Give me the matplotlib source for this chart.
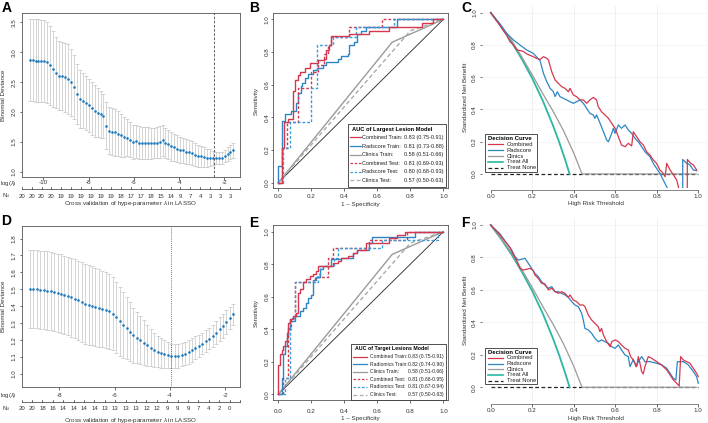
import numpy as np
import matplotlib.pyplot as plt
from matplotlib.lines import Line2D
from matplotlib.patches import Rectangle

plt.rcParams['font.family'] = ['Liberation Sans', 'DejaVu Sans']
plt.rcParams['mathtext.fontset'] = 'custom'
plt.rcParams['mathtext.rm'] = 'Liberation Sans'
plt.rcParams['mathtext.it'] = 'Liberation Sans:italic'
plt.rcParams['axes.unicode_minus'] = False

W, H = 708, 423

RED = '#D5384E'
BLUE = '#2C86C4'
LBLUE = '#3A9BD8'
GRAY = '#9A9A9A'
TEAL = '#2DB6A3'
DOT = '#1F7BBF'
EBAR = '#C4C4C4'

# ---------------- LASSO (A) ----------------
# glmnet lambda path: evenly spaced in log(lambda)
a_loglam = np.linspace(-10.6, -1.6, 70)
a_cvm = [2.87, 2.87, 2.86, 2.86, 2.85, 2.85, 2.83, 2.78, 2.72, 2.66,
         2.61, 2.60, 2.58, 2.55, 2.50, 2.42, 2.30, 2.22, 2.19, 2.15,
         2.11, 2.06, 2.02, 1.99, 1.96, 1.93, 1.77, 1.69, 1.67, 1.66,
         1.64, 1.61, 1.59, 1.57, 1.54, 1.50, 1.51, 1.49, 1.48, 1.48,
         1.48, 1.48, 1.48, 1.49, 1.50, 1.53, 1.48, 1.46, 1.43, 1.41,
         1.39, 1.37, 1.36, 1.34, 1.33, 1.31, 1.29, 1.27, 1.26, 1.25,
         1.24, 1.24, 1.23, 1.23, 1.23, 1.24, 1.26, 1.30, 1.33, 1.36]
a_cvsd = [0.69, 0.69, 0.69, 0.69, 0.69, 0.69, 0.68, 0.66, 0.63, 0.60,
          0.57, 0.57, 0.58, 0.58, 0.56, 0.53, 0.50, 0.48, 0.46, 0.45,
          0.45, 0.445, 0.43, 0.41, 0.39, 0.37, 0.395, 0.395, 0.395, 0.395,
          0.38, 0.355, 0.335, 0.31, 0.295, 0.28, 0.275, 0.275, 0.27, 0.27,
          0.265, 0.26, 0.255, 0.255, 0.26, 0.26, 0.25, 0.245, 0.24, 0.23,
          0.22, 0.215, 0.21, 0.21, 0.205, 0.20, 0.195, 0.185, 0.175, 0.16,
          0.15, 0.135, 0.12, 0.105, 0.10, 0.10, 0.10, 0.11, 0.12, 0.125]
a_best = -2.45
a_nzero = ['20', '20', '20', '20', '19', '19', '19', '19', '19', '19', '18',
           '17', '17', '18', '15', '14', '9', '7', '4', '3', '3', '3']

# ---------------- LASSO (D) ----------------
d_loglam = np.linspace(-9.06, -1.71, 60)
d_cvm = [1.502, 1.501, 1.500, 1.498, 1.496, 1.493, 1.489, 1.484, 1.479, 1.474,
         1.467, 1.460, 1.452, 1.444, 1.435, 1.426, 1.416, 1.408, 1.402, 1.396,
         1.390, 1.384, 1.377, 1.370, 1.355, 1.336, 1.311, 1.292, 1.270, 1.250,
         1.229, 1.214, 1.200, 1.186, 1.170, 1.155, 1.141, 1.132, 1.124, 1.117,
         1.111, 1.106, 1.107, 1.109, 1.115, 1.121, 1.130, 1.142, 1.155, 1.168,
         1.180, 1.195, 1.209, 1.226, 1.245, 1.266, 1.285, 1.307, 1.330, 1.352]
d_cvsd = [0.230, 0.231, 0.231, 0.231, 0.231, 0.232, 0.232, 0.232, 0.232, 0.232,
          0.232, 0.232, 0.232, 0.233, 0.234, 0.235, 0.236, 0.235, 0.233, 0.230,
          0.228, 0.226, 0.224, 0.222, 0.216, 0.210, 0.203, 0.195, 0.182, 0.173,
          0.163, 0.151, 0.140, 0.130, 0.120, 0.109, 0.099, 0.093, 0.086, 0.081,
          0.077, 0.073, 0.072, 0.071, 0.070, 0.069, 0.069, 0.069, 0.067, 0.065,
          0.064, 0.064, 0.064, 0.064, 0.066, 0.069, 0.070, 0.069, 0.066, 0.061]
d_best = -3.96
d_nzero = ['20', '20', '18', '16', '14', '14', '14', '14', '13', '13', '13',
           '13', '12', '12', '9', '9', '9', '7', '4', '2', '0']

# ---------------- ROC (B) ----------------
b_comb_tr_x = [0, 0.02, 0.036, 0.06, 0.09, 0.10, 0.117, 0.13, 0.16, 0.19, 0.24,
               0.28, 0.29, 0.31, 0.32, 0.43, 0.55, 0.67, 0.87, 0.94, 1.0]
b_comb_tr_y = [0, 0.21, 0.37, 0.39, 0.56, 0.63, 0.66, 0.68, 0.70, 0.73, 0.75,
               0.76, 0.81, 0.84, 0.90, 0.91, 0.93, 0.955, 0.975, 1.0, 1.0]
b_rad_tr_x = [0, 0, 0.025, 0.04, 0.08, 0.11, 0.12, 0.135, 0.145, 0.16, 0.18, 0.21,
              0.235, 0.27, 0.29, 0.36, 0.38, 0.42, 0.43, 0.46, 0.48, 0.50, 0.53, 0.72, 1.0]
b_rad_tr_y = [0, 0.10, 0.38, 0.42, 0.44, 0.49, 0.55, 0.59, 0.61, 0.64, 0.665, 0.69,
              0.70, 0.72, 0.74, 0.76, 0.775, 0.79, 0.84, 0.86, 0.91, 0.93, 0.955, 1.0, 1.0]
b_comb_te_x = [0, 0.02, 0.05, 0.12, 0.20, 0.24, 0.28, 0.30, 0.32, 0.43, 0.63, 1.0]
b_comb_te_y = [0, 0.21, 0.37, 0.58, 0.68, 0.72, 0.79, 0.84, 0.89, 0.955, 1.0, 1.0]
b_rad_te_x = [0, 0.03, 0.07, 0.20, 0.235, 0.33, 0.47, 0.70, 1.0]
b_rad_te_y = [0, 0.21, 0.37, 0.58, 0.84, 0.89, 0.955, 1.0, 1.0]
clin_tr_x = [0, 0.69, 1.0]
clin_tr_y = [0, 0.86, 1.0]
clin_te_x = [0, 0.80, 1.0]
clin_te_y = [0, 0.93, 1.0]
b_names = ['Combined Train:', 'Radscore Train:', 'Clinics Train:',
           'Combined Test:', 'Radscore Test:', 'Clinics Test:']
b_auc = ['0.83 (0.75-0.91)', '0.81 (0.73-0.88)', '0.58 (0.51-0.66)',
         '0.81 (0.69-0.93)', '0.80 (0.68-0.93)', '0.57 (0.50-0.63)']

# ---------------- ROC (E) ----------------
e_comb_tr_x = [0, 0, 0.01, 0.02, 0.03, 0.04, 0.05, 0.06, 0.07, 0.09, 0.11, 0.12, 0.13,
               0.15, 0.17, 0.19, 0.21, 0.23, 0.24, 0.33, 0.36, 0.38, 0.42, 0.45, 0.48,
               0.53, 0.67, 0.72, 0.77, 1.0]
e_comb_tr_y = [0, 0.18, 0.25, 0.27, 0.30, 0.33, 0.38, 0.44, 0.46, 0.48, 0.50, 0.62, 0.65,
               0.69, 0.71, 0.73, 0.74, 0.76, 0.79, 0.81, 0.82, 0.84, 0.85, 0.87, 0.89,
               0.93, 0.96, 0.98, 1.0, 1.0]
e_rad_tr_x = [0, 0.02, 0.03, 0.04, 0.05, 0.06, 0.07, 0.10, 0.13, 0.15, 0.17, 0.18, 0.20,
              0.21, 0.23, 0.25, 0.27, 0.32, 0.38, 0.45, 0.48, 0.55, 0.57, 0.83, 1.0]
e_rad_tr_y = [0, 0.10, 0.25, 0.30, 0.35, 0.41, 0.45, 0.48, 0.51, 0.53, 0.56, 0.59, 0.61,
              0.70, 0.72, 0.77, 0.79, 0.83, 0.84, 0.87, 0.89, 0.93, 0.97, 1.0, 1.0]
e_comb_te_x = [0, 0.03, 0.06, 0.08, 0.10, 0.22, 0.30, 0.33, 0.55, 0.78, 1.0]
e_comb_te_y = [0, 0.10, 0.40, 0.47, 0.69, 0.72, 0.84, 0.90, 0.95, 1.0, 1.0]
e_rad_te_x = [0, 0.04, 0.07, 0.10, 0.24, 0.25, 0.34, 0.36, 0.63, 0.97, 1.0]
e_rad_te_y = [0, 0.10, 0.47, 0.69, 0.74, 0.79, 0.84, 0.90, 0.95, 1.0, 1.0]
e_names = ['Combined Train:', 'Radiomics Train:', 'Clinics Train:',
           'Combined Test:', 'Radiomics Test:', 'Clinics Test:']
e_auc = ['0.83 (0.75-0.91)', '0.82 (0.74-0.90)', '0.58 (0.51-0.66)',
         '0.81 (0.68-0.95)', '0.81 (0.67-0.94)', '0.57 (0.50-0.63)']

# ---------------- DCA (C) ----------------
c_comb_x = [0, 0.045, 0.06, 0.077, 0.093, 0.11, 0.125, 0.14, 0.157, 0.173,
            0.19, 0.205, 0.22, 0.238, 0.254, 0.27, 0.278, 0.294, 0.31, 0.326,
            0.342, 0.358, 0.374, 0.382, 0.398, 0.414, 0.43, 0.446, 0.462, 0.478,
            0.494, 0.51, 0.518, 0.534, 0.55, 0.567, 0.583, 0.599, 0.615, 0.63,
            0.647, 0.663, 0.679, 0.687, 0.703, 0.719, 0.735, 0.751, 0.767, 0.783,
            0.799, 0.815, 0.831, 0.84, 0.848, 0.864, 0.88, 0.896, 0.912, 0.947,
            0.947, 0.96, 0.976, 0.992]
c_comb_y = [1.0, 0.92, 0.89, 0.86, 0.82, 0.80, 0.77, 0.765, 0.76, 0.745,
            0.735, 0.727, 0.717, 0.71, 0.727, 0.717, 0.707, 0.634, 0.583, 0.562,
            0.541, 0.531, 0.51, 0.531, 0.49, 0.479, 0.459, 0.459, 0.438, 0.459,
            0.475, 0.459, 0.417, 0.386, 0.366, 0.345, 0.314, 0.283, 0.231, 0.18,
            0.169, 0.19, 0.174, 0.262, 0.231, 0.2, 0.18, 0.138, 0.118, 0.087,
            0.066, 0.025, 0.004, -0.017, 0.066, 0.025, -0.006, -0.037, -0.12, -0.12,
            0.09, 0.07, 0.056, 0.025]
c_rad_x = [0, 0.045, 0.077, 0.11, 0.14, 0.173, 0.205, 0.22, 0.238, 0.254,
           0.27, 0.286, 0.302, 0.31, 0.321, 0.334, 0.35, 0.366, 0.382, 0.398,
           0.414, 0.43, 0.446, 0.462, 0.478, 0.494, 0.502, 0.51, 0.527, 0.543,
           0.559, 0.567, 0.583, 0.591, 0.599, 0.615, 0.63, 0.647, 0.663, 0.679,
           0.695, 0.711, 0.727, 0.743, 0.767, 0.783, 0.799, 0.815, 0.831, 0.848,
           0.86, 0.925, 0.925, 0.944, 0.96, 0.976, 0.992]
c_rad_y = [1.0, 0.93, 0.872, 0.83, 0.80, 0.769, 0.748, 0.727, 0.702, 0.624,
           0.572, 0.531, 0.51, 0.48, 0.51, 0.479, 0.469, 0.459, 0.448, 0.438,
           0.448, 0.459, 0.438, 0.407, 0.376, 0.366, 0.345, 0.366, 0.314, 0.262,
           0.21, 0.2, 0.252, 0.283, 0.252, 0.304, 0.283, 0.304, 0.273, 0.252,
           0.221, 0.2, 0.169, 0.138, 0.107, 0.066, 0.035, 0.004, -0.037, -0.08,
           -0.12, -0.12, 0.09, 0.066, 0.056, 0.025, 0.02]

# ---------------- DCA (F) ----------------
f_comb_x = [0, 0.045, 0.077, 0.093, 0.11, 0.125, 0.14, 0.157, 0.173, 0.19,
            0.205, 0.213, 0.229, 0.245, 0.261, 0.278, 0.294, 0.31, 0.326, 0.342,
            0.358, 0.374, 0.382, 0.398, 0.414, 0.43, 0.446, 0.454, 0.47, 0.486,
            0.502, 0.518, 0.526, 0.534, 0.543, 0.559, 0.575, 0.583, 0.599, 0.615,
            0.63, 0.647, 0.663, 0.674, 0.687, 0.695, 0.703, 0.711, 0.719, 0.727,
            0.735, 0.743, 0.759, 0.775, 0.799, 0.823, 0.848, 0.864, 0.88, 0.896,
            0.908, 0.915, 0.928, 0.944, 0.96, 0.976, 0.992, 1.0]
f_comb_y = [1.0, 0.938, 0.887, 0.862, 0.815, 0.784, 0.733, 0.723, 0.727, 0.733,
            0.719, 0.692, 0.671, 0.641, 0.637, 0.6, 0.61, 0.589, 0.579, 0.589,
            0.579, 0.554, 0.569, 0.538, 0.528, 0.507, 0.507, 0.497, 0.446, 0.415,
            0.394, 0.374, 0.343, 0.363, 0.322, 0.281, 0.25, 0.281, 0.292, 0.281,
            0.261, 0.24, 0.23, 0.189, 0.168, 0.148, 0.127, 0.189, 0.148, 0.097,
            0.082, 0.127, 0.189, 0.179, 0.158, 0.138, 0.107, 0.076, 0.045, 0.025,
            0.008, 0.189, 0.168, 0.158, 0.148, 0.117, 0.086, 0.066]
f_rad_x = [0, 0.045, 0.077, 0.101, 0.117, 0.133, 0.149, 0.165, 0.181, 0.197,
           0.213, 0.229, 0.245, 0.261, 0.278, 0.294, 0.31, 0.326, 0.342, 0.358,
           0.374, 0.39, 0.406, 0.422, 0.438, 0.446, 0.454, 0.47, 0.486, 0.502,
           0.518, 0.534, 0.55, 0.567, 0.583, 0.599, 0.615, 0.63, 0.647, 0.663,
           0.671, 0.687, 0.7, 0.711, 0.727, 0.743, 0.767, 0.799, 0.823, 0.848,
           0.864, 0.88, 0.892, 0.899, 0.928, 0.952, 0.976, 0.992, 1.0]
f_rad_y = [1.0, 0.945, 0.887, 0.846, 0.805, 0.784, 0.789, 0.795, 0.764, 0.733,
           0.702, 0.682, 0.651, 0.63, 0.61, 0.62, 0.589, 0.589, 0.579, 0.569,
           0.554, 0.528, 0.507, 0.497, 0.456, 0.415, 0.363, 0.353, 0.333, 0.302,
           0.281, 0.292, 0.281, 0.271, 0.25, 0.24, 0.261, 0.23, 0.199, 0.189,
           0.127, 0.172, 0.127, 0.158, 0.189, 0.158, 0.158, 0.148, 0.138, 0.117,
           0.086, 0.055, 0.045, 0.158, 0.158, 0.138, 0.097, 0.066, 0.025]

# clinics model and treat-all reference (same in C and F)
clin_x = [0, 0.05, 0.1, 0.15, 0.2, 0.25, 0.3, 0.35, 0.4, 0.44, 0.99]
clin_y = [1.0, 0.915, 0.83, 0.725, 0.615, 0.50, 0.39, 0.27, 0.13, 0.0, 0.0]
all_x = [0, 0.05, 0.1, 0.15, 0.2, 0.25, 0.3, 0.33, 0.36, 0.38]
all_y = [1.0, 0.914, 0.819, 0.712, 0.593, 0.457, 0.301, 0.197, 0.083, 0.0]
none_x = [0, 1.0]
none_y = [0, 0]
dca_names = ['Combined', 'Radscore', 'Clinics', 'Treat All', 'Treat None']


fig = plt.figure(figsize=(7.08, 4.23), dpi=100)


def px_rect(l, t, r, b):
    return [l / W, 1 - b / H, (r - l) / W, (b - t) / H]


def fx(x):
    return x / W


def fy(y):
    return 1 - y / H


def ftext(x, y, s, **kw):
    kw.setdefault('fontsize', 4.5)
    kw.setdefault('ha', 'center')
    kw.setdefault('va', 'center')
    fig.text(fx(x), fy(y), s, **kw)


def fline(x0, x1, y0, y1, **kw):
    fig.add_artist(Line2D([fx(x0), fx(x1)], [fy(y0), fy(y1)],
                          transform=fig.transFigure, **kw))


def set_ticks(ax, xt, yt, xfmt, yfmt, xpad, ypad, fs=4.5):
    ax.set_xticks(xt, [xfmt.format(v) for v in xt])
    ax.set_yticks(yt, [yfmt.format(v) for v in yt])
    ax.tick_params(labelsize=fs, length=1.8, width=0.5, colors='#333333')
    ax.tick_params(axis='x', pad=xpad)
    ax.tick_params(axis='y', pad=ypad)
    for t in ax.get_yticklabels():
        t.set_rotation(90)
        t.set_va('center')


def box(ax):
    for s in ax.spines.values():
        s.set_color('#555555')
        s.set_linewidth(0.6)


def legend(l, t, r, b, title, title_x, rows, row_y, sample, name_x, val_x=None, fs=4.2):
    fig.add_artist(Rectangle((fx(l), fy(b)), fx(r) - fx(l), fy(t) - fy(b),
                             transform=fig.transFigure, facecolor='white',
                             edgecolor='#333333', lw=0.6, zorder=5))
    fig.text(fx(title_x), fy(row_y[0]), title, fontsize=fs + 0.15, fontweight='bold',
             ha='left', va='center', zorder=6)
    for (name, val, color, ls, lw), y in zip(rows, row_y[1:]):
        fline(sample[0], sample[1], y, y, color=color, ls=ls, lw=lw, zorder=6)
        fig.text(fx(name_x), fy(y), name, fontsize=fs, ha='left', va='center',
                 color='#222222', zorder=6)
        if val is not None:
            fig.text(fx(val_x), fy(y), val, fontsize=fs, ha='right', va='center',
                     color='#222222', zorder=6)


def letter(x, y, s):
    fig.text(fx(x), fy(y), s, fontsize=10, fontweight='bold', ha='left', va='top')


# ---------- LASSO panels ----------
def lasso(rect, loglam, cvm, cvsd, best, best_ls, xlim, ylim, xt, yt,
          nzero, nticks, tick_y, n_line, n_lab, xlab_y):
    l, t, r, b = rect
    ax = fig.add_axes(px_rect(l, t, r, b))
    ax.errorbar(loglam, cvm, yerr=cvsd, fmt='none', ecolor=EBAR,
                elinewidth=0.5, capsize=1.3, capthick=0.5)
    ax.plot(loglam, cvm, 'o', ms=1.9, color=DOT, mec='none')
    ax.axvline(best, color='#444444', lw=0.6, ls=best_ls)
    ax.set_xlim(xlim)
    ax.set_ylim(ylim)
    set_ticks(ax, xt, yt, '{:g}', '{:.1f}', xpad=max((tick_y - b) / 1.39 - 4.0, 0.5), ypad=1.8)
    box(ax)
    # second axis with number of non-zero coefficients
    fline(l, r, n_line, n_line, color='#333333', lw=0.5)
    pos = np.linspace(l, r, nticks)
    for i, p in enumerate(pos):
        fline(p, p, n_line, n_line - 2.2, color='#333333', lw=0.5)
        if i < len(nzero):
            ftext(p, n_lab, nzero[i], fontsize=4.3, color='#333333')
    ftext(8, tick_y, r'log($\lambda$)', fontsize=4.3, color='#333333')
    ftext(6, n_lab, r'N$_{\lambda}$', fontsize=4.3, color='#333333')
    ftext((l + r) / 2, xlab_y, r'Cross validation of hype-parameter $\lambda$ in LASSO',
          fontsize=4.5, color='#333333')
    ftext(4, (t + b) / 2, 'Binomial Deviance', rotation=90, fontsize=4.5, color='#333333')
    return ax


lasso((21.7, 13.3, 240, 176.7), a_loglam, a_cvm, a_cvsd, a_best, (0, (3, 2)),
      (-10.95, -1.31), (0.92, 3.65), [-10, -8, -6, -4, -2], [1.0, 1.5, 2.0, 2.5, 3.0, 3.5],
      a_nzero, 23, 183.5, 189, 196, 203.5)
lasso((21.7, 226, 240, 386.7), d_loglam, d_cvm, d_cvsd, d_best, (0, (1, 1.5)),
      (-9.36, -1.47), (0.925, 1.874), [-8, -6, -4, -2],
      [1.0, 1.1, 1.2, 1.3, 1.4, 1.5, 1.6, 1.7, 1.8],
      d_nzero, 22, 395.7, 402.3, 408.5, 420)


# ---------- ROC panels ----------
def roc(rect, curves, names, aucs, ylim, leg_box, title, title_x, row_y, sample, name_x,
        ylab_x, tick_y, xlab_y, leg_fs):
    l, t, r, b = rect
    ax = fig.add_axes(px_rect(l, t, r, b))
    ax.plot([0, 1], [0, 1], color='#222222', lw=0.6)
    styles = []
    for (x, y, color, ls, step) in curves:
        ax.plot(x, y, color=color, ls=ls, lw=1.0,
                drawstyle='steps-post' if step else 'default')
        styles.append((color, ls))
    ax.set_xlim(-0.03, 1.03)
    ax.set_ylim(ylim)
    ticks = [0.0, 0.2, 0.4, 0.6, 0.8, 1.0]
    set_ticks(ax, ticks, ticks, '{:.1f}', '{:.1f}',
              xpad=max((tick_y - b) / 1.39 - 4.0, 0.5), ypad=0.8)
    box(ax)
    ftext((l + r) / 2, xlab_y, '1 \u2013 Specificity', color='#333333')
    ftext(ylab_x, (t + b) / 2, 'Sensitivity', rotation=90, color='#333333')
    rows = []
    # legend order: combined train, radscore train, clinics train, combined test, ...
    for name, val, key in zip(names, aucs, [5, 2, 0, 3, 4, 1]):
        color, ls = styles[key]
        rows.append((name, val, color, ls, 0.9))
    legend(*leg_box, title, title_x, rows, row_y, sample, name_x, leg_box[2] - 2.5, fs=leg_fs)
    return ax


DOTTED = (0, (2, 1.4))
DASHED = (0, (3, 2))
b_curves = [(clin_tr_x, clin_tr_y, GRAY, '-', False),
            (clin_te_x, clin_te_y, '#AAAAAA', DASHED, False),
            (b_rad_tr_x, b_rad_tr_y, BLUE, '-', True),
            (b_comb_te_x, b_comb_te_y, RED, DOTTED, True),
            (b_rad_te_x, b_rad_te_y, LBLUE, DOTTED, True),
            (b_comb_tr_x, b_comb_tr_y, RED, '-', True)]
roc((273.3, 13.3, 448.3, 188.3), b_curves, b_names, b_auc, (-0.034, 1.037),
    (348, 124, 446, 187.5), 'AUC of Largest Lesion Model', 351.5,
    [129, 137.5, 146.1, 154.7, 163.3, 171.9, 180.5], (350, 360.5), 362,
    256.7, 197.3, 204.5, 4.0)
e_curves = [(clin_tr_x, clin_tr_y, GRAY, '-', False),
            (clin_te_x, clin_te_y, '#AAAAAA', DASHED, False),
            (e_rad_tr_x, e_rad_tr_y, BLUE, '-', True),
            (e_comb_te_x, e_comb_te_y, RED, DOTTED, True),
            (e_rad_te_x, e_rad_te_y, LBLUE, DOTTED, True),
            (e_comb_tr_x, e_comb_tr_y, RED, '-', True)]
roc((273.3, 225, 448.3, 400), e_curves, e_names, e_auc, (-0.035, 1.041),
    (351, 344, 446, 400), 'AUC of Target Lesions Model', 355,
    [348.5, 356.5, 364.1, 371.7, 379.3, 386.9, 394.5], (353, 367.5), 369.5,
    256.7, 412.3, 418.5, 3.6)


# ---------- DCA panels ----------
def dca(rect, comb_x, comb_y, rad_x, rad_y, leg_box, row_y, tick_y, xlab_y):
    l, t, r, b = rect
    ax = fig.add_axes(px_rect(l, t, r, b))
    for v in [0.2, 0.4, 0.6, 0.8]:
        ax.axvline(v, color='#ECECEC', lw=0.5, zorder=0)
    for v in [0.2, 0.4, 0.6, 0.8, 1.0]:
        ax.axhline(v, color='#F1F1F1', lw=0.5, zorder=0)
    ax.plot(none_x, none_y, color='#222222', ls=DASHED, lw=0.9)
    ax.plot(all_x, all_y, color=TEAL, lw=1.3)
    ax.plot(clin_x, clin_y, color=GRAY, lw=0.9)
    ax.plot(rad_x, rad_y, color=BLUE, lw=0.9)
    ax.plot(comb_x, comb_y, color=RED, lw=0.9)
    ax.set_xlim(-0.04, 1.04)
    ax.set_ylim(-0.09, 1.04)
    ticks = [0.0, 0.2, 0.4, 0.6, 0.8, 1.0]
    set_ticks(ax, ticks, ticks, '{:.1f}', '{:.1f}',
              xpad=max((tick_y - b - 1.5) / 1.39 - 4.0, 0.5), ypad=2.0)
    for side in ['left', 'top', 'right']:
        ax.spines[side].set_visible(False)
    ax.spines['bottom'].set_bounds(0, 1)
    ax.spines['bottom'].set_position(('outward', 1.2))
    ax.spines['bottom'].set_color('#555555')
    ax.spines['bottom'].set_linewidth(0.5)
    ftext((l + r) / 2 + 1, xlab_y, 'High Risk Threshold', color='#333333')
    ftext(465.5, (t + b) / 2, 'Standardized Net Benefit', rotation=90, color='#333333')
    rows = [(dca_names[0], None, RED, '-', 0.9),
            (dca_names[1], None, BLUE, '-', 0.9),
            (dca_names[2], None, GRAY, '-', 0.9),
            (dca_names[3], None, TEAL, '-', 1.2),
            (dca_names[4], None, '#222222', DASHED, 0.9)]
    legend(*leg_box, 'Decision Curve', leg_box[0] + 3.5, rows, row_y, (488.3, 502.7), 506.7)
    return ax


dca((482.4, 6.2, 706.6, 188.5), c_comb_x, c_comb_y, c_rad_x, c_rad_y,
    (485, 134, 536.7, 171.7), [138.5, 144.5, 150.3, 156.1, 161.9, 167.7], 196.7, 203.5)
dca((482.4, 218.5, 706.6, 401.9), f_comb_x, f_comb_y, f_rad_x, f_rad_y,
    (485, 347.7, 536.7, 384), [352, 357.8, 363.5, 369.2, 374.9, 380.6], 411, 418.3)

letter(1.5, 1.5, 'A')
letter(249.5, 1.5, 'B')
letter(461, 1.5, 'C')
letter(1.5, 214, 'D')
letter(249.5, 216, 'E')
letter(461, 216, 'F')

fig.savefig('out.png', dpi=100, facecolor='white')
